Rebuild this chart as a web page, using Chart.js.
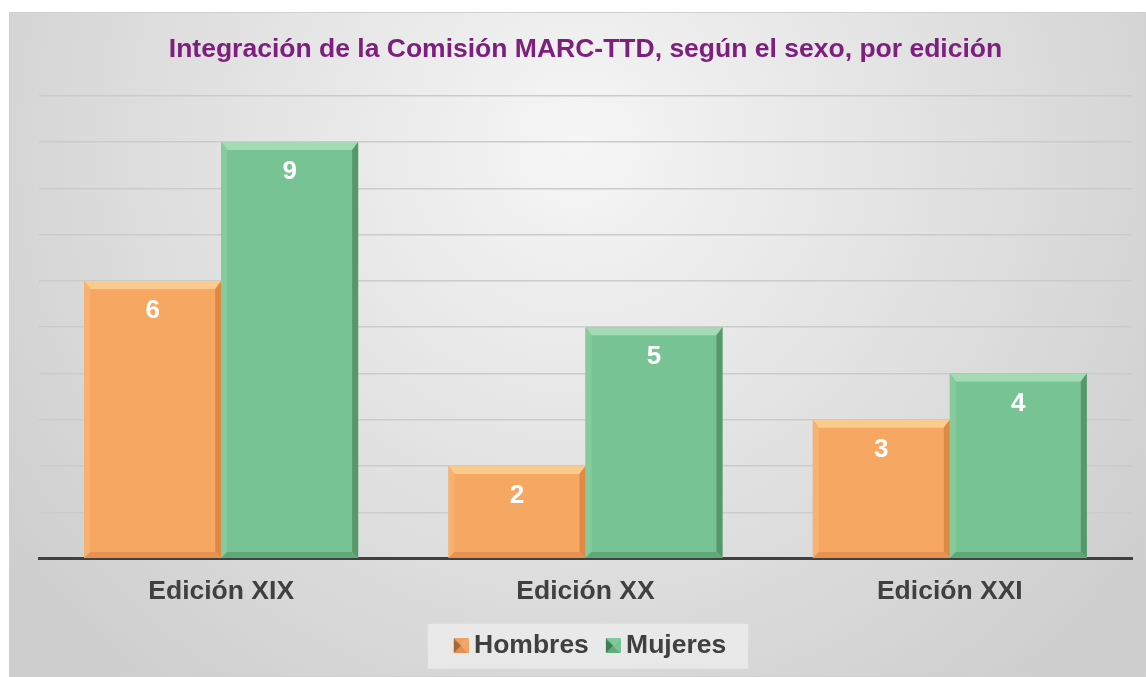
<!DOCTYPE html>
<html><head><meta charset="utf-8">
<script src="https://cdn.jsdelivr.net/npm/chart.js@4.4.1/dist/chart.umd.min.js"></script>
<style>
html,body{margin:0;padding:0;background:#fff;}
#wrap{position:absolute;left:9px;top:12px;width:1137px;height:665px;}
</style></head>
<body>
<div id="wrap"><canvas id="c" width="1137" height="665"></canvas></div>
<script>
const categories = ["Edición XIX", "Edición XX", "Edición XXI"];
const hombres = [6, 2, 3];
const mujeres = [9, 5, 4];
const seriesNames = ["Hombres", "Mujeres"];
const yMax = 10;

const FONT = '"Liberation Sans", Arial, sans-serif';

function makeMarker(c) {
  const cv = document.createElement('canvas');
  cv.width = 32; cv.height = 15;
  const x = cv.getContext('2d');
  const L = 17, R = 32, T = 0, B = 15, cx = 24.5, cy = 7.5;
  const tri = (pts, col) => { x.beginPath(); x.moveTo(pts[0][0], pts[0][1]); x.lineTo(pts[1][0], pts[1][1]); x.lineTo(pts[2][0], pts[2][1]); x.closePath(); x.fillStyle = col; x.fill(); };
  tri([[L,T],[R,T],[cx,cy]], c.top);
  tri([[R,T],[R,B],[cx,cy]], c.right);
  tri([[L,B],[R,B],[cx,cy]], c.bottom);
  tri([[L,T],[L,B],[cx,cy]], c.left);
  return cv;
}
const markers = [
  makeMarker({top:'#eea060', right:'#f3a660', bottom:'#e39150', left:'#a8682f'}),
  makeMarker({top:'#7ccb96', right:'#78c393', bottom:'#5fae7b', left:'#3c7f55'})
];

const bgPlugin = {
  id: 'bg',
  beforeDraw(chart) {
    const {ctx, width, height} = chart;
    ctx.save();
    const g = ctx.createRadialGradient(width*0.5, height*0.2, 10, width*0.5, height*0.2, width*0.62);
    g.addColorStop(0, '#f5f5f5');
    g.addColorStop(1, '#cecece');
    ctx.fillStyle = g;
    ctx.fillRect(0, 0, width, height);
    ctx.strokeStyle = '#d0d0d0';
    ctx.lineWidth = 1;
    ctx.strokeRect(0.5, 0.5, width-1, height-1);
    const lg = chart.legend;
    if (lg && lg.legendHitBoxes && lg.legendHitBoxes.length) {
      const hb = lg.legendHitBoxes;
      const l = Math.min(...hb.map(h => h.left));
      const r = Math.max(...hb.map(h => h.left + h.width));
      const t = Math.min(...hb.map(h => h.top));
      const bt = Math.max(...hb.map(h => h.top + h.height));
      const cy = (t + bt) / 2;
      ctx.fillStyle = 'rgba(236,236,236,0.8)';
      ctx.fillRect(l - 17, cy - 22, (r - l) + 39, 45);
    }
    ctx.restore();
  }
};

const bevel = {
  orange: {top:'#fbcb8e', left:'#f8b270', right:'#de8a44', bottom:'#e69250'},
  green:  {top:'#a3dcb4', left:'#86cb9c', right:'#55996b', bottom:'#5fa878'}
};

const bevelPlugin = {
  id: 'bevel',
  afterDatasetsDraw(chart) {
    const ctx = chart.ctx;
    chart.data.datasets.forEach((ds, di) => {
      const meta = chart.getDatasetMeta(di);
      const b = di === 0 ? bevel.orange : bevel.green;
      meta.data.forEach((el, i) => {
        const L = el.x - el.width/2, R = el.x + el.width/2, T = el.y, B = el.base;
        const s = 6;
        ctx.save();
        const poly = (pts, c) => { ctx.beginPath(); ctx.moveTo(pts[0][0], pts[0][1]); for (let k=1;k<pts.length;k++) ctx.lineTo(pts[k][0], pts[k][1]); ctx.closePath(); ctx.fillStyle = c; ctx.fill(); };
        poly([[L,T],[R,T],[R-s,T+s+2],[L+s,T+s+2]], b.top);
        poly([[L,T],[L+s,T+s+2],[L+s,B-s],[L,B]], b.left);
        poly([[R,T],[R,B],[R-s,B-s],[R-s,T+s+2]], b.right);
        poly([[L,B],[L+s,B-s],[R-s,B-s],[R,B]], b.bottom);
        ctx.fillStyle = '#ffffff';
        ctx.font = 'bold 26px ' + FONT;
        ctx.textAlign = 'center';
        ctx.textBaseline = 'middle';
        ctx.fillText(String(ds.data[i]), el.x, T + 30);
        ctx.restore();
      });
    });
  }
};

new Chart(document.getElementById('c'), {
  type: 'bar',
  data: {
    labels: categories,
    datasets: [
      {label: seriesNames[0], data: hombres, backgroundColor: '#f6a862', borderWidth: 0},
      {label: seriesNames[1], data: mujeres, backgroundColor: '#78c393', borderWidth: 0}
    ]
  },
  plugins: [bgPlugin, bevelPlugin],
  options: {
    responsive: false,
    animation: false,
    devicePixelRatio: 1,
    layout: {padding: {left: 30, right: 14, top: 0, bottom: 8}},
    datasets: {bar: {categoryPercentage: 0.752, barPercentage: 1.0}},
    plugins: {
      title: {
        display: true,
        text: 'Integración de la Comisión MARC-TTD, según el sexo, por edición',
        color: '#7e1f80',
        font: {family: FONT, size: 26.5, weight: 'bold', lineHeight: 1.2},
        padding: {top: 22, bottom: 30}
      },
      legend: {
        display: true,
        position: 'bottom',
        labels: {
          color: '#404040',
          font: {family: FONT, size: 26.5, weight: 'bold'},
          usePointStyle: true,
          pointStyleWidth: 16,
          boxWidth: 16, boxHeight: 16, padding: 8,
          generateLabels(chart) {
            return chart.data.datasets.map((ds, i) => ({
              text: ds.label,
              fontColor: '#404040',
              fillStyle: i === 0 ? '#e08a45' : '#5aa874',
              strokeStyle: 'rgba(0,0,0,0)',
              pointStyle: markers[i],
              lineWidth: 0,
              datasetIndex: i,
              hidden: false
            }));
          }
        }
      },
      tooltip: {enabled: false}
    },
    scales: {
      x: {
        grid: {display: false},
        border: {display: true, color: '#404040', width: 3},
        afterFit(scale) { scale.height += 8; },
        ticks: {
          color: '#404040',
          padding: 9,
          font: {family: FONT, size: 26.5, weight: 'bold'}
        }
      },
      y: {
        min: 0, max: yMax,
        ticks: {display: false, stepSize: 1},
        border: {display: false},
        grid: {color: '#cbcbcb', lineWidth: 1.5, drawTicks: false}
      }
    }
  }
});
</script>
</body></html>
